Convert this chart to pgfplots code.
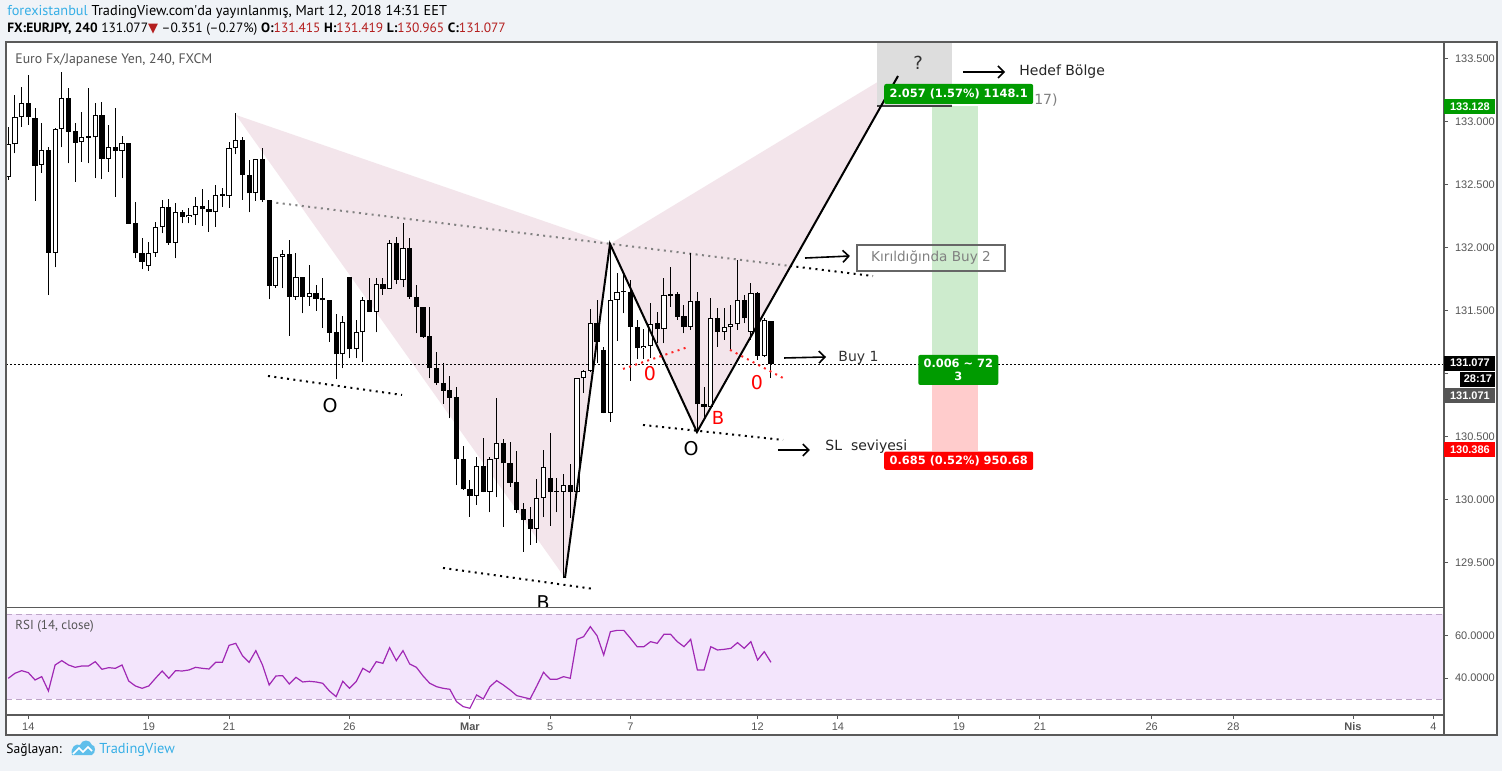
\documentclass[border=0pt]{standalone}
\usepackage{pgfplots}
\usepackage{pgfplotstable}
\pgfplotsset{compat=1.18}
\usetikzlibrary{arrows.meta}
\usepackage{fontspec}
\setmainfont{Liberation Sans}
\newfontfamily\hdr{PT Sans}
\newfontfamily\verd{DejaVu Sans}
\definecolor{bg}{RGB}{240,243,247}
\definecolor{frame}{RGB}{90,90,90}
\definecolor{tvgray}{RGB}{85,85,85}
\definecolor{pinkfill}{RGB}{243,229,235}
\definecolor{zonegreen}{RGB}{205,235,205}
\definecolor{zonered}{RGB}{255,204,204}
\definecolor{lblgreen}{RGB}{0,155,0}
\definecolor{lblred}{RGB}{255,0,0}
\definecolor{boxgray}{RGB}{221,221,221}
\definecolor{rsiline}{RGB}{160,40,180}
\definecolor{rsiband}{RGB}{243,229,252}
\definecolor{rsidash}{RGB}{190,165,200}
\definecolor{tvblue}{RGB}{55,175,230}
\definecolor{hdrred}{RGB}{180,30,30}
\definecolor{dotgray}{RGB}{130,130,130}

\pgfplotstableread{
i o h l c
1 132.565 132.962 132.539 132.822
2 132.822 133.214 132.751 133.037
3 133.037 133.275 132.962 133.148
6 132.658 132.989 132.597 132.777
8 131.962 132.949 131.845 132.941
9 132.941 133.394 132.798 133.188
12 132.838 133.082 132.685 132.883
14 132.878 133.153 132.552 133.055
16 132.708 132.976 132.605 132.798
18 132.769 132.888 132.552 132.830
22 131.856 132.044 131.819 131.956
23 131.956 132.203 131.930 132.163
24 132.163 132.380 132.115 132.327
26 132.041 132.354 131.917 132.282
28 132.242 132.314 132.195 132.261
29 132.258 132.407 132.181 132.332
32 132.282 132.499 132.168 132.417
33 132.412 132.473 132.327 132.420
34 132.412 132.843 132.319 132.790
35 132.790 133.068 132.743 132.857
38 132.433 132.706 132.372 132.706
41 131.700 131.925 131.684 131.925
42 131.925 131.983 131.678 131.951
44 131.612 131.956 131.586 131.766
46 131.612 131.864 131.541 131.639
51 131.154 131.459 131.043 131.408
53 131.194 131.427 131.122 131.329
54 131.329 131.612 131.091 131.583
56 131.493 131.758 131.329 131.710
58 131.671 132.062 131.669 132.036
60 131.745 132.195 131.686 131.996
71 130.032 130.341 129.958 130.267
73 130.063 130.341 129.899 130.320
74 130.320 130.805 130.018 130.447
80 129.770 130.164 129.658 130.011
81 130.011 130.394 129.860 130.257
84 130.063 130.204 129.375 130.114
86 130.063 130.964 130.056 130.964
87 130.964 131.030 130.845 131.022
88 131.022 131.512 131.017 131.400
91 130.691 132.020 130.619 131.586
92 131.586 131.798 131.263 131.647
93 131.647 131.798 131.480 131.652
96 131.202 131.353 131.115 131.220
97 131.220 131.559 131.123 131.395
99 131.353 131.758 131.242 131.626
103 131.374 131.956 131.348 131.578
106 130.739 131.599 130.737 131.440
108 131.334 131.520 131.268 131.369
109 131.369 131.546 131.189 131.392
110 131.392 131.904 131.348 131.586
112 131.334 131.718 131.268 131.639
114 131.141 131.440 131.136 131.427
}\upc

\pgfplotstableread{
i o h l c
4 133.148 133.373 132.976 133.037
5 133.029 133.108 132.375 132.653
7 132.777 132.798 131.625 131.962
10 133.188 133.267 132.671 132.923
11 132.928 132.989 132.526 132.835
13 132.883 133.267 132.671 132.875
15 133.055 133.156 132.544 132.708
17 132.798 133.108 132.407 132.769
19 132.830 132.832 132.190 132.192
20 132.195 132.367 131.917 131.956
21 131.956 132.076 131.829 131.890
25 132.327 132.388 132.023 132.041
27 132.282 132.301 132.195 132.242
30 132.332 132.467 132.176 132.306
31 132.311 132.380 132.128 132.282
36 132.857 132.883 132.380 132.579
37 132.579 132.698 132.282 132.433
39 132.706 132.790 132.367 132.380
40 132.380 132.383 131.591 131.700
43 131.951 132.062 131.302 131.612
45 131.766 131.771 131.480 131.612
47 131.639 131.702 131.501 131.596
48 131.602 131.763 131.366 131.583
49 131.586 131.588 131.255 131.326
50 131.332 131.477 130.956 131.154
52 131.766 131.768 131.122 131.194
55 131.583 131.758 131.491 131.493
57 131.710 131.758 131.626 131.671
59 132.036 132.089 131.710 131.745
61 131.996 132.076 131.594 131.612
62 131.612 131.705 131.321 131.528
63 131.528 131.530 131.287 131.295
64 131.300 131.528 130.964 131.043
65 131.043 131.170 130.911 130.924
66 130.924 131.083 130.760 130.866
67 130.871 130.982 130.646 130.810
68 130.813 130.897 130.116 130.320
69 130.320 130.429 130.077 130.082
70 130.082 130.156 129.865 130.032
72 130.267 130.492 130.058 130.063
75 130.447 130.479 129.785 130.288
76 130.288 130.461 130.103 130.135
77 130.138 130.386 129.897 129.918
78 129.923 129.971 129.587 129.838
79 129.846 129.944 129.640 129.770
82 130.169 130.527 129.793 130.063
83 130.069 130.169 129.899 130.061
85 130.114 130.283 129.852 130.063
89 131.400 131.586 131.083 131.255
90 131.189 131.215 130.686 130.691
94 131.647 131.745 130.945 131.374
95 131.374 131.427 131.115 131.202
98 131.400 131.493 131.242 131.353
100 131.634 131.851 131.533 131.620
101 131.634 131.652 131.427 131.453
102 131.459 131.546 131.321 131.374
104 131.578 131.652 130.553 130.757
105 130.757 130.897 130.659 130.739
107 131.440 131.520 131.215 131.334
111 131.586 131.626 131.400 131.440
113 131.639 131.652 131.109 131.141
115 131.415 131.419 130.965 131.077
}\dnc

\pgfplotstableread{
i r
1 39.88
2 42.24
3 43.49
4 42.55
5 39.10
6 40.67
7 33.92
8 46.16
9 48.20
10 46.16
11 45.06
12 45.69
13 45.69
14 47.73
15 44.12
16 44.90
17 44.59
18 46.16
19 38.63
20 36.27
21 35.18
22 36.27
23 39.88
24 43.33
25 39.88
26 43.49
27 43.33
28 43.80
29 45.06
30 44.59
31 44.27
32 47.41
33 47.41
34 55.41
35 56.35
36 50.55
37 47.41
38 52.90
39 46.16
40 36.74
41 40.98
42 41.14
43 37.22
44 40.35
45 38.16
46 38.47
47 38.16
48 37.53
49 33.92
50 31.25
51 38.47
52 35.18
53 38.31
54 44.59
55 42.71
56 47.73
57 46.94
58 54.31
59 48.20
60 52.90
61 46.63
62 45.06
63 40.98
64 37.53
65 35.96
66 35.18
67 34.71
68 28.90
69 26.55
70 25.76
71 32.04
72 30.16
73 35.96
74 38.78
75 36.74
76 34.39
77 31.73
78 30.94
79 30.16
80 36.27
81 42.71
82 39.41
83 39.41
84 40.67
85 39.88
86 58.24
87 59.49
88 64.20
89 59.96
90 50.86
91 61.84
92 62.47
93 62.47
94 58.71
95 54.78
96 54.78
97 57.14
98 56.35
99 60.59
100 60.59
101 57.14
102 54.78
103 58.24
104 43.80
105 43.80
106 54.78
107 53.22
108 53.53
109 54.00
110 56.67
111 54.00
112 57.14
113 48.51
114 52.43
115 47.41
}\rsi

\begin{document}
\begin{tikzpicture}[x=1pt,y=1pt]
\useasboundingbox (0,0) rectangle (751,385.5);
\fill[bg] (0,0) rectangle (751,385.5);
\fill[white] (3,18) rectangle (748.5,364.5);

% ---------------- price pane ----------------
\begin{axis}[
  name=price, at={(3pt,82pt)}, anchor=south west,
  width=719pt, height=282.5pt, scale only axis,
  xmin=0.66, xmax=215.6, ymin=129.147, ymax=133.635,
  axis line style={draw=none},
  xtick=\empty,
  ytick={129.5,130,130.5,131.5,132,132.5,133,133.5},
  extra y ticks={131}, extra y tick labels={},
  scaled y ticks=false,
  ytick pos=right, yticklabel pos=right, tick align=outside,
  major tick length=2pt, tick style={draw=tvgray, line width=0.5pt},
  yticklabel style={font=\fontsize{5.5}{6}\selectfont, text=tvgray,
    /pgf/number format/.cd, fixed, fixed zerofill, precision=3, 1000 sep={}, assume math mode=true},
]
% pattern fills
\addplot[fill=pinkfill, draw=none, forget plot] coordinates {(35.04,133.055)(84.21,129.378)(90.94,132.031)} -- cycle;
\addplot[fill=pinkfill, draw=none, forget plot] coordinates {(90.94,132.031)(103.94,130.537)(134.89,133.444)} -- cycle;
% position tool zones
\addplot[fill=boxgray, draw=none, forget plot] coordinates {(130.9,133.635)(142.0,133.635)(142.0,133.128)(130.9,133.128)} -- cycle;
\addplot[fill=zonegreen, draw=none, forget plot] coordinates {(139.03,133.128)(146.0,133.128)(146.0,131.077)(139.03,131.077)} -- cycle;
\addplot[fill=zonered, draw=none, forget plot] coordinates {(139.03,131.077)(146.0,131.077)(146.0,130.386)(139.03,130.386)} -- cycle;
\addplot[black!75, line width=0.7pt, forget plot] coordinates {(130.9,133.128)(142.0,133.128)};
% trend lines (dotted)
\addplot[dotgray, line width=1pt, dash pattern=on 1pt off 2.2pt, forget plot] coordinates {(40.12,132.364)(117.85,131.856)};
\addplot[black, line width=1pt, dash pattern=on 1pt off 2.2pt, forget plot] coordinates {(117.85,131.856)(130.25,131.776)};
\addplot[black, line width=1pt, dash pattern=on 1pt off 2.2pt, forget plot] coordinates {(39.82,130.982)(59.85,130.831)};
\addplot[black, line width=1pt, dash pattern=on 1pt off 2.2pt, forget plot] coordinates {(65.98,129.457)(88.55,129.290)};
\addplot[black, line width=1pt, dash pattern=on 1pt off 2.2pt, forget plot] coordinates {(95.87,130.593)(116.80,130.474)};
% last price line
\addplot[black, line width=0.5pt, dash pattern=on 1pt off 1pt, forget plot] coordinates {(0.66,131.077)(215.6,131.077)};
% candles: wicks
\addplot[forget plot, draw=none, mark=none, error bars/.cd, y dir=plus, y explicit, error mark=none,
  error bar style={draw=black, line width=0.5pt, solid}]
  table[x=i, y=l, y error plus expr=\thisrow{h}-\thisrow{l}] {\upc};
\addplot[forget plot, draw=none, mark=none, error bars/.cd, y dir=plus, y explicit, error mark=none,
  error bar style={draw=black, line width=0.5pt, solid}]
  table[x=i, y=l, y error plus expr=\thisrow{h}-\thisrow{l}] {\dnc};
% down bodies
\addplot[forget plot, draw=none, mark=none, error bars/.cd, y dir=plus, y explicit, error mark=none,
  error bar style={draw=black, line width=2.6pt, solid}]
  table[x=i, y=c, y error plus expr={max(\thisrow{o}-\thisrow{c},0.010)}] {\dnc};
% up bodies (outline + white)
\addplot[forget plot, draw=none, mark=none, error bars/.cd, y dir=plus, y explicit, error mark=none,
  error bar style={draw=black, line width=2.6pt, solid}]
  table[x=i, y=o, y error plus expr={max(\thisrow{c}-\thisrow{o},0.012)}] {\upc};
\addplot[forget plot, draw=none, mark=none, error bars/.cd, y dir=plus, y explicit, error mark=none,
  error bar style={draw=white, line width=1.6pt, solid}]
  table[x=i, y expr=\thisrow{o}+0.008, y error plus expr={max(\thisrow{c}-\thisrow{o}-0.016,0)}] {\upc};
% pattern legs
\addplot[black, line width=1pt, forget plot] coordinates {(84.21,129.378)(90.94,132.031)(103.94,130.537)(133.99,133.365)};
% red dotted
\addplot[red!85, line width=1pt, dash pattern=on 1pt off 2.2pt, forget plot] coordinates {(92.88,131.038)(102.6,131.212)};
\addplot[red!85, line width=1pt, dash pattern=on 1pt off 2.2pt, forget plot] coordinates {(108.88,131.189)(116.80,130.966)};
% arrows
\addplot[black, line width=0.8pt, -{Straight Barb[length=3pt,width=6pt]}, forget plot] coordinates {(143.7,133.397)(150.0,133.397)};
\addplot[black, line width=0.8pt, -{Straight Barb[length=3pt,width=6pt]}, forget plot] coordinates {(120.09,131.919)(126.8,131.935)};
\addplot[black, line width=0.8pt, -{Straight Barb[length=3pt,width=6pt]}, forget plot] coordinates {(116.95,131.125)(123.23,131.133)};
\addplot[black, line width=0.8pt, -{Straight Barb[length=3pt,width=6pt]}, forget plot] coordinates {(116.05,130.394)(120.83,130.394)};
% texts
\node[font=\verd\fontsize{9.5}{10}\selectfont] at (axis cs:49.09,130.744) {O};
\node[font=\verd\fontsize{9.5}{10}\selectfont] at (axis cs:80.93,129.179) {B};
\node[font=\verd\fontsize{9.5}{10}\selectfont] at (axis cs:103.05,130.402) {O};
\node[font=\verd\fontsize{9}{10}\selectfont, text=red] at (axis cs:107.08,130.649) {B};
\node[font=\verd\fontsize{9.5}{10}\selectfont, text=red] at (axis cs:96.92,130.998) {0};
\node[font=\verd\fontsize{9.5}{10}\selectfont, text=red] at (axis cs:112.91,130.927) {0};
\node[font=\verd\fontsize{9}{10}\selectfont, text=black!80] at (axis cs:137.0,133.47) {?};
\node[anchor=west, inner sep=0, font=\verd\fontsize{7}{8}\selectfont, text=black!85] at (axis cs:152.07,133.397) {Hedef Bölge};
\node[draw=black!60, line width=1pt, minimum width=74pt, minimum height=13pt, inner sep=0,
  font=\verd\fontsize{6.8}{8}\selectfont, text=black!50] at (axis cs:138.92,131.919) {Kırıldığında Buy 2};
\node[anchor=west, inner sep=0, font=\verd\fontsize{7}{8}\selectfont, text=black!80] at (axis cs:125.02,131.125) {Buy 1};
\node[anchor=west, inner sep=0, font=\verd\fontsize{7}{8}\selectfont, text=black!85] at (axis cs:123.08,130.418) {SL\ \ seviyesi};
\node[anchor=west, inner sep=0, font=\verd\fontsize{7}{8}\selectfont, text=black!50] at (axis cs:154.3,133.174) {17)};
% position labels
\node[fill=lblgreen, rounded corners=1pt, text=white, minimum width=74.5pt, minimum height=10pt, inner sep=0,
  font=\verd\bfseries\fontsize{5.7}{6.5}\selectfont] at (axis cs:143.06,133.222) {2.057 (1.57\%) 1148.1};
\node[fill=lblgreen, rounded corners=1pt, text=white, minimum width=40pt, minimum height=15pt, inner sep=0, align=center,
  font=\verd\bfseries\fontsize{5.7}{6.3}\selectfont] at (axis cs:143.0,131.03) {0.006 \textasciitilde{} 72\\3};
\node[fill=lblred, rounded corners=1pt, text=white, minimum width=74.5pt, minimum height=9.2pt, inner sep=0,
  font=\verd\bfseries\fontsize{5.7}{6.5}\selectfont] at (axis cs:143.06,130.309) {0.685 (0.52\%) 950.68};
% anchors for right-hand price labels
\coordinate (RG) at (axis cs:215.6,133.124);
\coordinate (RB) at (axis cs:215.6,131.085);
\coordinate (RT) at (axis cs:215.6,130.958);
\coordinate (RD) at (axis cs:215.6,130.827);
\coordinate (RR) at (axis cs:215.6,130.400);
\end{axis}

% ---------------- RSI pane ----------------
\begin{axis}[
  name=rsi, at={(3pt,28pt)}, anchor=south west,
  width=719pt, height=53.5pt, scale only axis,
  xmin=0.66, xmax=215.6, ymin=22.6, ymax=73.0,
  axis line style={draw=none},
  ytick={40,60},
  ytick pos=right, yticklabel pos=right, tick align=outside,
  xtick pos=bottom,
  major tick length=2pt, tick style={draw=tvgray, line width=0.5pt},
  yticklabel style={font=\fontsize{5.5}{6}\selectfont, text=tvgray,
    /pgf/number format/.cd, fixed, fixed zerofill, precision=4, 1000 sep={}, assume math mode=true},
  xtick={4,22,34,52,70,82,94,113,125,143.1,155.2,171.9,184.1,202,214},
  xticklabels={14,19,21,26,\textbf{Mar},5,7,12,14,19,21,26,28,\textbf{Nis},4},
  xticklabel style={font=\fontsize{5.5}{6}\selectfont, text=tvgray, yshift=1.8pt},
]
\addplot[fill=rsiband, draw=none, forget plot] coordinates {(0.66,30)(215.6,30)(215.6,70)(0.66,70)} -- cycle;
\addplot[rsidash, line width=0.5pt, dash pattern=on 3pt off 2pt, forget plot] coordinates {(0.66,70)(215.6,70)};
\addplot[rsidash, line width=0.5pt, dash pattern=on 3pt off 2pt, forget plot] coordinates {(0.66,30)(215.6,30)};
\addplot[rsiline, line width=0.6pt, forget plot] table[x=i, y=r] {\rsi};
\end{axis}

% frame
\draw[frame, line width=0.6pt] (3,18) rectangle (748.5,364.5);
\draw[frame, line width=0.6pt] (722,18) -- (722,364.5);
\draw[frame, line width=0.9pt] (3,81.75) -- (722,81.75);
\draw[frame, line width=0.6pt] (3,28) -- (722,28);

% right-hand price labels
\tikzset{pl/.style={anchor=west, inner sep=0, minimum width=25.5pt, minimum height=7.5pt, text=white,
  font=\bfseries\fontsize{5.5}{6}\selectfont}}
\node[pl, fill=lblgreen] at (RG) {133.128};
\node[pl, fill=black] at (RB) {131.077};
\node[pl, fill=black, minimum width=17.5pt, xshift=8pt] at (RT) {28:17};
\node[pl, fill=tvgray] at (RD) {131.071};
\node[pl, fill=lblred] at (RR) {130.386};

% pane titles
\node[anchor=west, inner sep=0, font=\hdr\fontsize{6.9}{8}\selectfont, text=tvgray] at (7.5,355.5) {Euro Fx/Japanese Yen, 240, FXCM};
\node[anchor=west, inner sep=0, font=\hdr\fontsize{6.5}{7}\selectfont, text=tvgray] at (7.5,72.5) {RSI (14, close)};

% header
\node[anchor=west, inner sep=0, font=\hdr\fontsize{7.15}{8}\selectfont] at (3.5,379.5)
  {\textcolor{tvblue}{forexistanbul} TradingView.com'da yayınlanmış, Mart 12, 2018 14:31 EET};
\node[anchor=west, inner sep=0, font=\hdr\fontsize{6.72}{8}\selectfont] at (3.5,371)
  {\textbf{FX:EURJPY, 240} 131.077{\verd\fontsize{6.5}{7}\selectfont\textcolor{hdrred}{▼}} –0.351 (–0.27\%) \textbf{O:}\textcolor{hdrred}{131.415} \textbf{H:}\textcolor{hdrred}{131.419} \textbf{L:}\textcolor{hdrred}{130.965} \textbf{C:}\textcolor{hdrred}{131.077}};

% footer
\node[anchor=west, inner sep=0, font=\hdr\fontsize{6.8}{8}\selectfont] at (3,10.5) {Sağlayan:};
\fill[tvblue!80] (36,8) .. controls (35,12) and (38,14) .. (40,13) .. controls (41,16) and (45,16) .. (46,13) .. controls (48,13) and (48,9) .. (46,8) -- cycle;
\draw[white, line width=0.8pt] (36.5,8.5) -- (39.5,11.5) -- (41.5,9.5) -- (44,12) -- (46,10);
\node[anchor=west, inner sep=0, font=\hdr\fontsize{7.2}{8}\selectfont, text=tvblue] at (49.5,10.5) {TradingView};
\end{tikzpicture}
\end{document}
